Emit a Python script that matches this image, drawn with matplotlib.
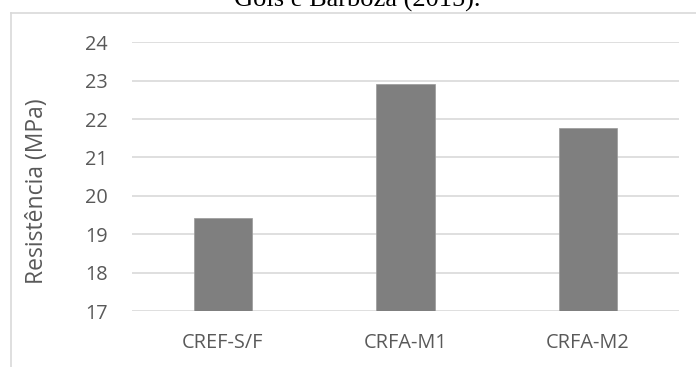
import matplotlib.pyplot as plt
from matplotlib.lines import Line2D

# resistência à compressão por traço
categorias = ["CREF-S/F", "CRFA-M1", "CRFA-M2"]
resistencia = [19.42, 22.91, 21.76]
yticks = [17, 18, 19, 20, 21, 22, 23, 24]

W, H = 696, 367
fig = plt.figure(figsize=(W / 100, H / 100), dpi=100)
fig.patch.set_facecolor("white")

# moldura do gráfico (cortada à direita e embaixo)
fig.add_artist(Line2D([11 / W, 11 / W], [0, 1 - 12.5 / H], color="#d9d9d9", lw=1.2))
fig.add_artist(Line2D([11 / W, 1], [1 - 12.5 / H, 1 - 12.5 / H], color="#d9d9d9", lw=1.2))

# legenda da figura, quase toda fora da área visível
fig.text(357 / W, 1 - 7 / H, "Gois e Barboza (2015).", ha="center", va="baseline",
         fontsize=19, family="Liberation Serif", color="black")

ax = fig.add_axes([131.7 / W, 1 - 311 / H, (679 - 131.7) / W, (311 - 42.3) / H])
x = range(len(categorias))
ax.bar(x, resistencia, width=0.32, color="#7f7f7f", edgecolor="#9a9a9a", lw=0.5,
       zorder=3, bottom=0)
ax.set_xlim(-0.5, 2.5)
ax.set_ylim(17, 24)
ax.set_yticks(yticks)
ax.set_xticks(list(x))
ax.set_xticklabels(categorias)
ax.yaxis.grid(True, color="#d9d9d9", lw=1.2, zorder=0)
for s in ax.spines.values():
    s.set_visible(False)
ax.tick_params(axis="both", length=0, colors="#595959", labelsize=14.3)
ax.tick_params(axis="y", pad=17)
ax.tick_params(axis="x", pad=16)
for lbl in ax.get_xticklabels() + ax.get_yticklabels():
    lbl.set_family("Open Sans")
ax.set_ylabel("Resistência (MPa)", fontsize=16.5, color="#595959", family="Open Sans")
ax.yaxis.set_label_coords(-0.152, 0.445)

fig.savefig("out.png", dpi=100)
